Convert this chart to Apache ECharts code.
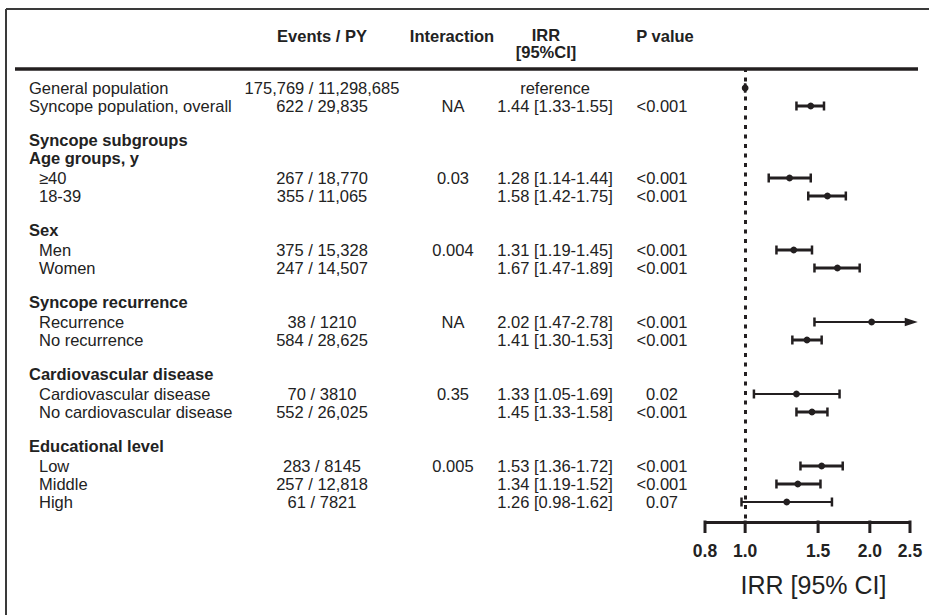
<!DOCTYPE html>
<html>
<head>
<meta charset="utf-8">
<script src="https://cdn.jsdelivr.net/npm/echarts@6/dist/echarts.min.js"></script>
<style>html,body{margin:0;padding:0;background:#fff}#chart{width:929px;height:615px}</style>
</head>
<body>
<div id="chart"></div>
<script>
// ---------------- data ----------------
const rowLabels = [
  'General population', 'Syncope population, overall',
  'Syncope subgroups', 'Age groups, y', '\u226540', '18-39',
  'Sex', 'Men', 'Women',
  'Syncope recurrence', 'Recurrence', 'No recurrence',
  'Cardiovascular disease', 'Cardiovascular disease', 'No cardiovascular disease',
  'Educational level', 'Low', 'Middle', 'High'
];
const rowKinds = [
  'main', 'main',
  'head', 'head', 'sub', 'sub',
  'head', 'sub', 'sub',
  'head', 'sub', 'sub',
  'head', 'sub', 'sub',
  'head', 'sub', 'sub', 'sub'
];
const eventsPY = [
  '175,769 / 11,298,685', '622 / 29,835',
  '', '', '267 / 18,770', '355 / 11,065',
  '', '375 / 15,328', '247 / 14,507',
  '', '38 / 1210', '584 / 28,625',
  '', '70 / 3810', '552 / 26,025',
  '', '283 / 8145', '257 / 12,818', '61 / 7821'
];
const interaction = [
  '', 'NA',
  '', '', '0.03', '',
  '', '0.004', '',
  '', 'NA', '',
  '', '0.35', '',
  '', '0.005', '', ''
];
const irr     = [1.00, 1.44, null, null, 1.28, 1.58, null, 1.31, 1.67, null, 2.02, 1.41, null, 1.33, 1.45, null, 1.53, 1.34, 1.26];
const ciLower = [1.00, 1.33, null, null, 1.14, 1.42, null, 1.19, 1.47, null, 1.47, 1.30, null, 1.05, 1.33, null, 1.36, 1.19, 0.98];
const ciUpper = [1.00, 1.55, null, null, 1.44, 1.75, null, 1.45, 1.89, null, 2.78, 1.53, null, 1.69, 1.58, null, 1.72, 1.52, 1.62];
const isReferenceRow = [true, false, false, false, false, false, false, false, false, false, false, false, false, false, false, false, false, false, false];
const pValues = [
  '', '<0.001',
  '', '', '<0.001', '<0.001',
  '', '<0.001', '<0.001',
  '', '<0.001', '<0.001',
  '', '0.02', '<0.001',
  '', '<0.001', '<0.001', '0.07'
];
const tickValues = [0.8, 1.0, 1.5, 2.0, 2.5];
const columnHeaders = ['Events / PY', 'Interaction', 'IRR', '[95%CI]', 'P value'];
const axisTitle = 'IRR [95% CI]';
const axisMin = 0.8, axisMax = 2.5, arrowLimit = 2.61;

// ---------------- layout ----------------
const FONT = '"Liberation Sans", Arial, Helvetica, sans-serif';
const INK = '#231f20';
const TXT = '#222';
const FS = 16.5;
const PITCH = 18.0, firstRowY = 88, plotTop = 68, plotBottom = 522;

// line number of each row (a blank line before each new group)
const rowLine = [];
(function () {
  let line = 0;
  rowKinds.forEach((k, i) => {
    if (i > 0 && k === 'head' && rowKinds[i - 1] !== 'head') line += 1;
    rowLine.push(line);
    line += 1;
  });
})();

const fmt2 = v => v.toFixed(2);
const irrText = irr.map((v, i) => v == null ? '' :
  (isReferenceRow[i] ? 'reference' : fmt2(v) + ' [' + fmt2(ciLower[i]) + '-' + fmt2(ciUpper[i]) + ']'));

function txt(text, x, y, align, bold, size) {
  return {
    type: 'text',
    style: {
      text: text, x: x, y: y,
      align: align, verticalAlign: 'middle',
      textAlign: align, textVerticalAlign: 'middle',
      font: (bold ? 'bold ' : '') + (size || FS) + 'px ' + FONT,
      fill: TXT
    }
  };
}

const chart = echarts.init(document.getElementById('chart'), null, { renderer: 'svg' });

const ciData = [];
irr.forEach((v, i) => { if (v != null) ciData.push([v, rowLine[i], ciLower[i], ciUpper[i], i]); });

const textData = rowLabels.map((_, i) => [1, rowLine[i], i]);
const tickData = tickValues.map(v => [v, 0]);

const option = {
  animation: false,
  backgroundColor: '#fff',
  grid: { left: 705, right: 929 - 910, top: plotTop, bottom: 615 - plotBottom, containLabel: false },
  xAxis: {
    type: 'log', logBase: 10, min: axisMin, max: axisMax,
    axisLine: { show: true, onZero: false, lineStyle: { color: INK, width: 3, cap: 'butt' } },
    axisTick: { show: false },
    axisLabel: { show: false },
    splitLine: { show: false },
    name: axisTitle, nameLocation: 'middle', nameGap: 50,
    nameTextStyle: { fontFamily: FONT, fontSize: 25, color: TXT, padding: [0, 0, 0, 12] }
  },
  yAxis: {
    type: 'value', inverse: true, show: false,
    min: -(firstRowY - plotTop) / PITCH,
    max: (plotBottom - firstRowY) / PITCH
  },
  graphic: [
    { type: 'line', silent: true, shape: { x1: 6, y1: 9, x2: 929, y2: 9 }, style: { stroke: '#3a3a3a', lineWidth: 2 } },
    { type: 'line', silent: true, shape: { x1: 6, y1: 9, x2: 6, y2: 615 }, style: { stroke: '#3a3a3a', lineWidth: 2 } },
    { type: 'line', silent: true, shape: { x1: 15, y1: 69, x2: 918, y2: 69 }, style: { stroke: INK, lineWidth: 3.5 } },
    Object.assign(txt(columnHeaders[0], 322, 36, 'center', true), { silent: true }),
    Object.assign(txt(columnHeaders[1], 452, 36, 'center', true), { silent: true }),
    Object.assign(txt(columnHeaders[2], 546, 35, 'center', true), { silent: true }),
    Object.assign(txt(columnHeaders[3], 546, 52, 'center', true), { silent: true }),
    Object.assign(txt(columnHeaders[4], 665, 36, 'center', true), { silent: true })
  ],
  series: [
    {
      type: 'custom', name: 'IRR', coordinateSystem: 'cartesian2d', clip: false,
      data: ciData,
      renderItem: function (params, api) {
        const y = api.coord([1, api.value(1)])[1];
        const lo = api.value(2), hi = api.value(3), est = api.value(0);
        const xL = api.coord([lo, api.value(1)])[0];
        const xC = api.coord([est, api.value(1)])[0];
        const arrow = hi > axisMax;
        const xR = api.coord([arrow ? arrowLimit : hi, api.value(1)])[0];
        const wide = Math.log10(hi / lo) > 0.2;
        const lw = wide ? 2 : 3;
        const ch = [];
        ch.push({ type: 'line', shape: { x1: xL, y1: y, x2: arrow ? xR - 12 : xR, y2: y }, style: { stroke: INK, lineWidth: lw } });
        ch.push({ type: 'line', shape: { x1: xL, y1: y - 4.5, x2: xL, y2: y + 4.5 }, style: { stroke: INK, lineWidth: 2.5 } });
        if (arrow) {
          ch.push({ type: 'polygon', shape: { points: [[xR, y], [xR - 13, y - 4.3], [xR - 13, y + 4.3]] }, style: { fill: INK } });
        } else {
          ch.push({ type: 'line', shape: { x1: xR, y1: y - 4.5, x2: xR, y2: y + 4.5 }, style: { stroke: INK, lineWidth: 2.5 } });
        }
        ch.push({ type: 'circle', shape: { cx: xC, cy: y, r: 3.4 }, style: { fill: INK } });
        return { type: 'group', children: ch };
      },
      markLine: {
        silent: true, symbol: 'none', animation: false,
        label: { show: false },
        lineStyle: { color: INK, width: 3, type: [4, 5.5], cap: 'butt' },
        data: [{ xAxis: 1 }]
      },
      z: 3
    },
    {
      type: 'custom', name: 'table', coordinateSystem: 'cartesian2d', clip: false, silent: true,
      data: textData,
      renderItem: function (params, api) {
        const i = api.value(2);
        const y = api.coord([1, api.value(1)])[1];
        const kind = rowKinds[i];
        const ch = [];
        ch.push(txt(rowLabels[i], kind === 'sub' ? 39 : 29, kind === 'head' ? y - 2 : y, 'left', kind === 'head'));
        if (eventsPY[i]) ch.push(txt(eventsPY[i], 322, y, 'center', false));
        if (interaction[i]) ch.push(txt(interaction[i], 453, y, 'center', false));
        if (irrText[i]) ch.push(txt(irrText[i], 555, y, 'center', false));
        if (pValues[i]) ch.push(txt(pValues[i], 662, y, 'center', false));
        return { type: 'group', children: ch };
      }
    },
    {
      type: 'custom', name: 'ticks', coordinateSystem: 'cartesian2d', clip: false, silent: true,
      data: tickData,
      renderItem: function (params, api) {
        const x = api.coord([api.value(0), 0])[0];
        const yb = params.coordSys.y + params.coordSys.height;
        return {
          type: 'group',
          children: [
            { type: 'line', shape: { x1: x, y1: yb - 1.5, x2: x, y2: yb + 11 }, style: { stroke: INK, lineWidth: 3 } },
            txt(api.value(0).toFixed(1), x, yb + 29, 'center', true, 17.5)
          ]
        };
      }
    }
  ]
};
chart.setOption(option);
</script>
</body>
</html>
